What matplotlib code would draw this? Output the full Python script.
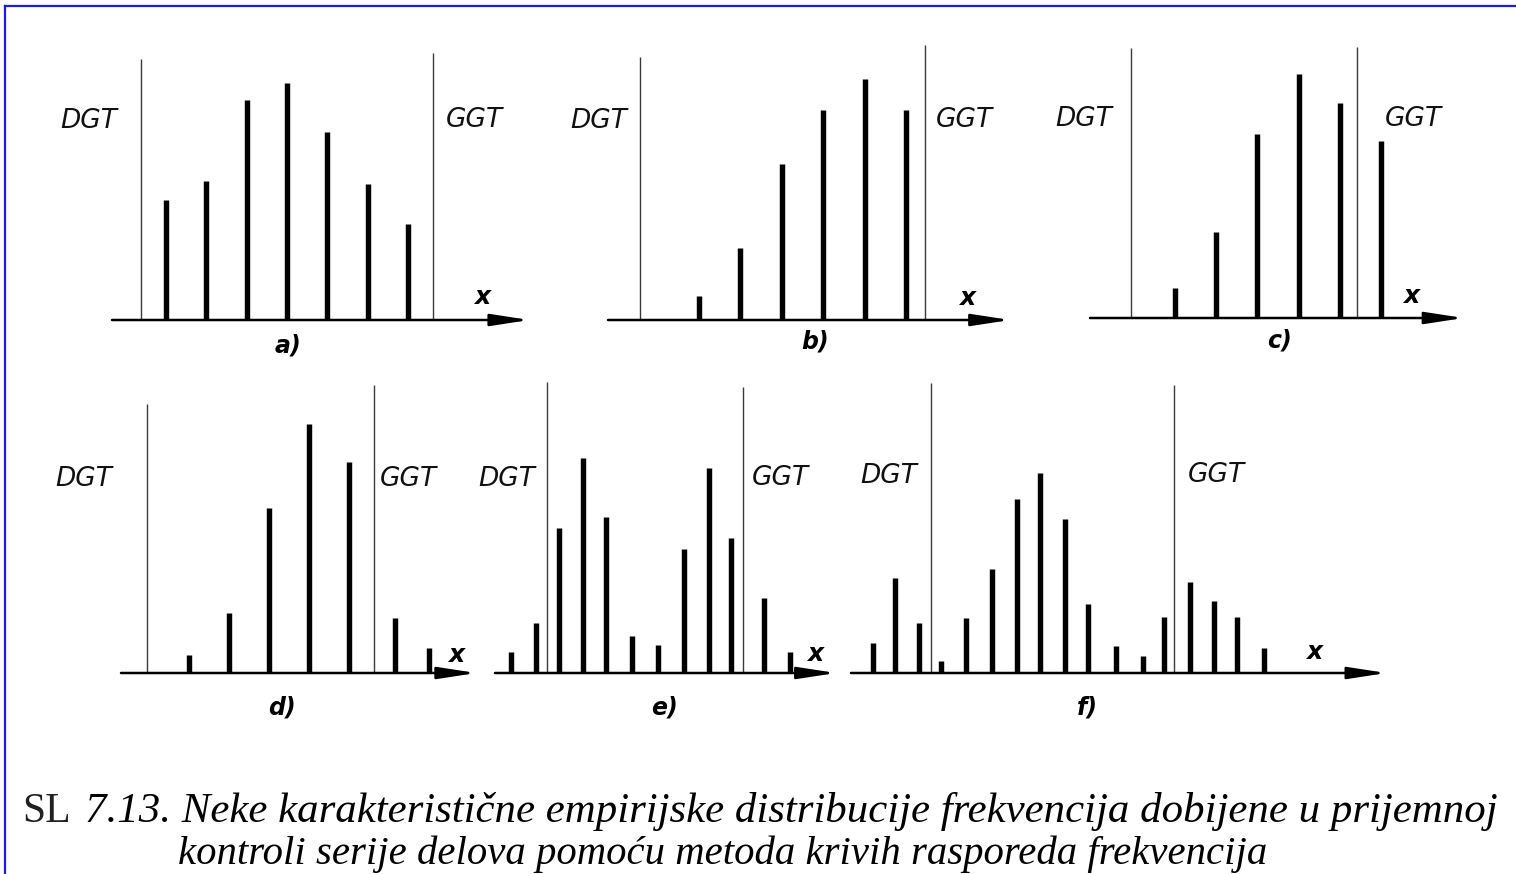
import matplotlib
matplotlib.use("Agg")
import matplotlib.pyplot as plt
from matplotlib.lines import Line2D

W, H = 1516, 874

# ---------------- data (frequencies, arbitrary units) -------------
a_x = [1, 2, 3, 4, 5, 6, 7]
a_f = [120, 139, 220, 237, 188, 136, 96]
a_dgt, a_ggt = 0.38, 7.63

b_x = [1, 2, 3, 4, 5, 6]
b_f = [24, 72, 156, 210, 241, 210]
b_dgt, b_ggt = -0.43, 6.46

c_x = [1, 2, 3, 4, 5, 6]
c_f = [30, 86, 184, 244, 215, 177]
c_dgt, c_ggt = -0.07, 5.42

d_x = [1, 2, 3, 4, 5, 6.15, 7]
d_f = [18, 60, 165, 249, 211, 55, 25]
d_dgt, d_ggt = -0.05, 5.63

e_x = [1, 2, 2.9, 3.85, 4.75, 5.75, 6.8, 7.8, 8.8, 9.65, 10.95, 12]
e_f = [21, 50, 145, 215, 156, 37, 28, 124, 205, 135, 75, 21]
e_dgt, e_ggt = 2.42, 10.13

f_x = [1, 1.9, 2.9, 3.8, 4.8, 5.85, 6.9, 7.85, 8.85, 9.8, 10.95, 12.05, 12.9, 13.95, 14.95, 15.9, 17]
f_f = [30, 95, 50, 12, 55, 104, 174, 200, 154, 69, 27, 17, 56, 91, 72, 56, 25]
f_dgt, f_ggt = 3.37, 13.32

panel_labels = ["a)", "b)", "c)", "d)", "e)", "f)"]
caption_1 = "7.13. Neke karakteristične empirijske distribucije frekvencija dobijene u prijemnoj"
caption_2 = "kontroli serije delova pomoću metoda krivih rasporeda frekvencija"

# ---------------- layout (pixels) ----------------
layout = {
    "a": dict(l=112, r=522, base=320, xlim=(-0.34, 9.83), dl=261, gl=267,
              dgt=(89, 121), ggt=(474, 120), xl=(482, 297), lab=(288, 345)),
    "b": dict(l=608, r=1003, base=320, xlim=(-1.2, 8.34), dl=263, gl=275,
              dgt=(599, 121), ggt=(964, 120), xl=(967, 298), lab=(815, 342)),
    "c": dict(l=1090, r=1457, base=318, xlim=(-1.06, 7.84), dl=270, gl=271,
              dgt=(1084, 119), ggt=(1413, 119), xl=(1411, 296), lab=(1280, 340)),
    "d": dict(l=121, r=470, base=673, xlim=(-0.7, 8.03), dl=269, gl=288,
              dgt=(84, 479), ggt=(408, 479), xl=(456, 655), lab=(282, 707)),
    "e": dict(l=495, r=830, base=673, xlim=(0.37, 13.56), dl=291, gl=286,
              dgt=(507, 479), ggt=(780, 478), xl=(815, 654), lab=(665, 708)),
    "f": dict(l=851, r=1377, base=673, xlim=(0.1, 21.62), dl=290, gl=288,
              dgt=(889, 476), ggt=(1216, 475), xl=(1314, 652), lab=(1087, 707)),
}
series = {
    "a": (a_x, a_f, a_dgt, a_ggt),
    "b": (b_x, b_f, b_dgt, b_ggt),
    "c": (c_x, c_f, c_dgt, c_ggt),
    "d": (d_x, d_f, d_dgt, d_ggt),
    "e": (e_x, e_f, e_dgt, e_ggt),
    "f": (f_x, f_f, f_dgt, f_ggt),
}

fig = plt.figure(figsize=(W / 100, H / 100), dpi=100)
fig.patch.set_facecolor("white")


def fx(px):
    return px / W


def fy(py):
    return 1 - py / H


lab_font = dict(family="DejaVu Sans", style="oblique", fontsize=19, color="#111111")

for key, lab in zip("abcdef", panel_labels):
    L = layout[key]
    xs, fs, dgt, ggt = series[key]
    top = 30
    ax = fig.add_axes([fx(L["l"]), fy(L["base"]), fx(L["r"] - L["l"]), (L["base"] - top) / H])
    ax.set_xlim(*L["xlim"])
    ax.set_ylim(0, L["base"] - top)
    ax.axis("off")
    # tolerance limit lines
    ax.vlines([dgt], 0, [L["dl"]], color="#3a3a3a", lw=1.0)
    ax.vlines([ggt], 0, [L["gl"]], color="#3a3a3a", lw=1.0)
    # frequency sticks
    ax.vlines(xs, 0, fs, color="black", lw=3.9)
    # x axis with arrow
    ax.annotate("", xy=(1.018, 0), xytext=(0, 0), xycoords="axes fraction",
                textcoords="axes fraction", annotation_clip=False,
                arrowprops=dict(arrowstyle="-|>,head_length=1.3,head_width=0.2",
                                lw=1.8, color="black", mutation_scale=18,
                                shrinkA=0, shrinkB=0))
    fig.text(fx(L["dgt"][0]), fy(L["dgt"][1]), "DGT", ha="center", va="center", **lab_font)
    fig.text(fx(L["ggt"][0]), fy(L["ggt"][1]), "GGT", ha="center", va="center", **lab_font)
    fig.text(fx(L["xl"][0]), fy(L["xl"][1]), "x", ha="center", va="center",
             family="DejaVu Sans", style="oblique", weight="bold", fontsize=18)
    fig.text(fx(L["lab"][0]), fy(L["lab"][1]), lab, ha="center", va="center",
             family="DejaVu Sans", style="oblique", weight="bold", fontsize=17)

# blue frame
fig.add_artist(Line2D([fx(5), fx(1516)], [fy(6), fy(6)], color="#1a1ae6", lw=1.6))
fig.add_artist(Line2D([fx(5), fx(5)], [fy(6), fy(874)], color="#1a1ae6", lw=1.6))

# caption
fig.text(fx(22), fy(822), "SL", family="Liberation Serif", fontsize=30, ha="left",
         va="baseline", color="#222")
t1 = fig.text(fx(85), fy(822), caption_1, family="Liberation Serif", style="italic",
              fontsize=30, ha="left", va="baseline", color="black")
t2 = fig.text(fx(178), fy(864), caption_2, family="Liberation Serif", style="italic",
              fontsize=30, ha="left", va="baseline", color="black")
renderer = fig.canvas.get_renderer()
for t, target in ((t1, 1415), (t2, 1090)):
    w = t.get_window_extent(renderer).width
    t.set_fontsize(30 * target / w)

fig.savefig("out.png", dpi=100, facecolor="white")
